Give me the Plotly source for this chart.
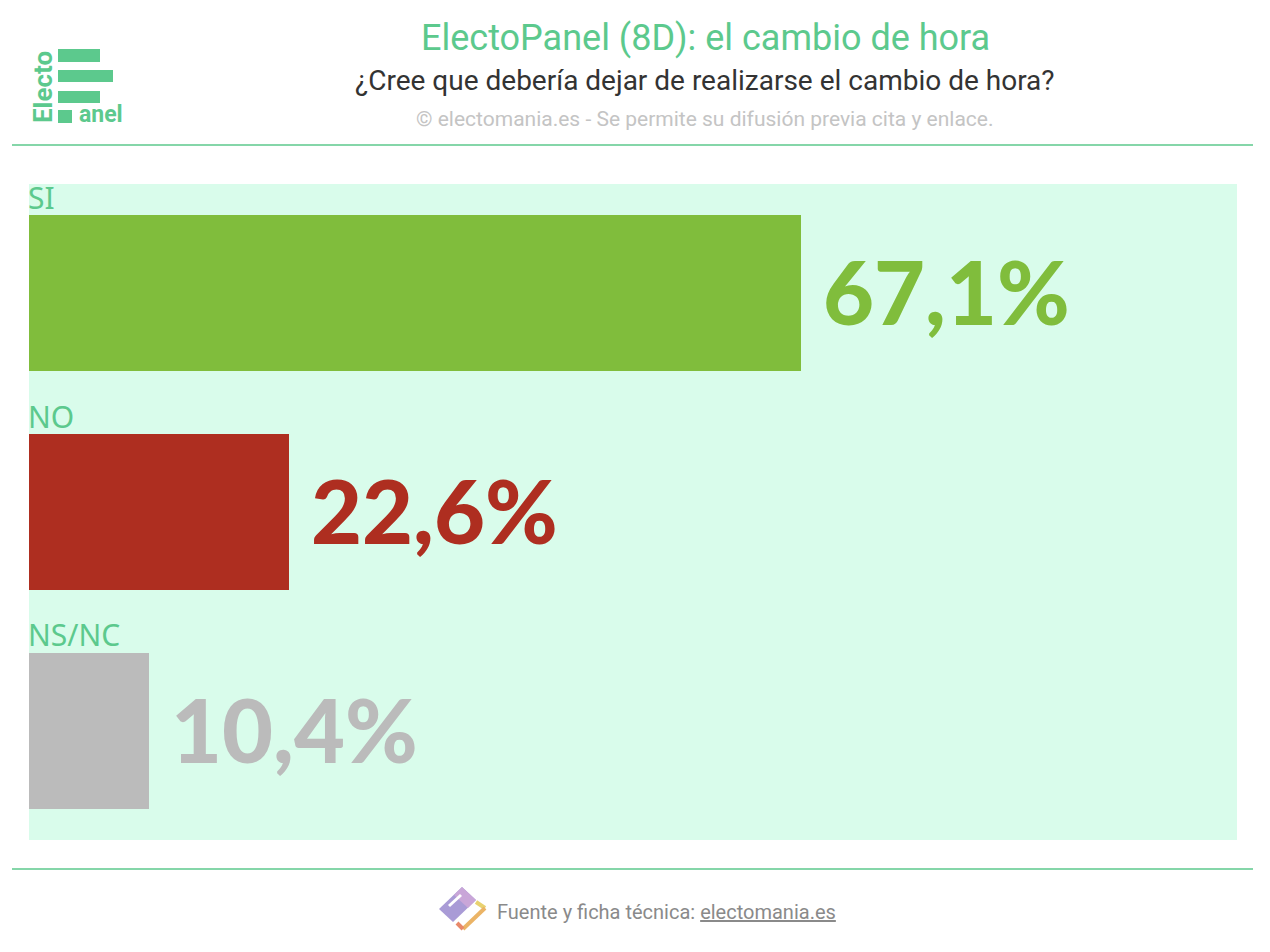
import plotly.graph_objects as go

# datos
categorias = ["SI", "NO", "NS/NC"]
valores = [67.1, 22.6, 10.4]
etiquetas = ["67,1%", "22,6%", "10,4%"]
colores = ["#80BD3C", "#AE2E20", "#BBBBBB"]

VERDE = "#5CC98D"
O = 8  # margen del body de la pagina
W, H = 1270 - O, 952 - O
L, R, T, B = 29, 1237, 184, 840  # area del grafico en pixeles de pantalla


def px(x):
    return (x - L) / (R - L)


def py(y):
    return (B - y) / (B - T)


fig = go.Figure(go.Bar(
    x=valores,
    y=categorias,
    orientation="h",
    marker=dict(color=colores, line=dict(width=0)),
    width=0.712,
    hoverinfo="skip",
))

anotaciones = []
for cat, val, txt, col in zip(categorias, valores, etiquetas, colores):
    anotaciones.append(dict(
        x=val, y=cat, xref="x", yref="y", text=txt,
        showarrow=False, xanchor="left", yanchor="middle", xshift=20, yshift=2,
        font=dict(family="Lato", size=88, color=col, weight=900),
    ))
    anotaciones.append(dict(
        x=0, y=cat, xref="x", yref="y", text=cat,
        showarrow=False, xanchor="left", yanchor="middle", yshift=96, xshift=-3,
        font=dict(family="Noto Sans", size=30, color=VERDE),
    ))

# cabecera
anotaciones += [
    dict(x=px(705), y=py(38), xref="paper", yref="paper", showarrow=False,
         text="ElectoPanel (8D): el cambio de hora", xanchor="center", yanchor="middle",
         font=dict(family="Roboto", size=36, color=VERDE)),
    dict(x=px(705), y=py(80), xref="paper", yref="paper", showarrow=False,
         text="¿Cree que debería dejar de realizarse el cambio de hora?", xanchor="center", yanchor="middle",
         font=dict(family="Roboto", size=28, color="#333333")),
    dict(x=px(705), y=py(119), xref="paper", yref="paper", showarrow=False,
         text="© electomania.es - Se permite su difusión previa cita y enlace.", xanchor="center", yanchor="middle",
         font=dict(family="Roboto", size=21, color="#C4C4C4")),
    # logo
    dict(x=px(43), y=py(87), xref="paper", yref="paper", showarrow=False,
         text="<b>Electo</b>", textangle=-90, xanchor="center", yanchor="middle",
         font=dict(family="Roboto", size=26, color=VERDE)),
    dict(x=px(77), y=py(115), xref="paper", yref="paper", showarrow=False,
         text="<b>anel</b>", xanchor="left", yanchor="middle",
         font=dict(family="Roboto", size=23, color=VERDE)),
    # pie
    dict(x=px(495), y=py(912), xref="paper", yref="paper", showarrow=False,
         text="Fuente y ficha técnica: <u>electomania.es</u>", xanchor="left", yanchor="middle",
         font=dict(family="Roboto", size=20, color="#8A8A8A")),
]

formas = [
    dict(type="line", xref="paper", yref="paper", x0=px(12), x1=px(1253), y0=py(145), y1=py(145),
         line=dict(color=VERDE, width=1.5)),
    dict(type="line", xref="paper", yref="paper", x0=px(12), x1=px(1253), y0=py(869), y1=py(869),
         line=dict(color=VERDE, width=1.5)),
]
for x0, x1, y0, y1 in [(58, 100, 49, 62), (58, 113, 70, 82), (58, 100, 91, 103), (58, 72, 110, 123)]:
    formas.append(dict(type="rect", xref="paper", yref="paper", x0=px(x0), x1=px(x1),
                       y0=py(y0), y1=py(y1), fillcolor=VERDE, line=dict(width=0)))


# icono del pie
def camino(puntos):
    return "M " + " L ".join(f"{px(a)},{py(b)}" for a, b in puntos) + " Z"


formas += [
    dict(type="path", xref="paper", yref="paper", path=camino([(462, 887), (476, 900), (453, 922), (439, 909)]),
         fillcolor="#A99BD6", line=dict(width=0)),
    dict(type="path", xref="paper", yref="paper", path=camino([(462, 887), (476, 900), (468, 908), (454, 895)]),
         fillcolor="#C9A6D8", line=dict(width=0)),
    dict(type="path", xref="paper", yref="paper", path=camino([(448, 905), (460, 894), (462, 896), (450, 907)]),
         fillcolor="white", line=dict(width=0)),
    dict(type="line", xref="paper", yref="paper", x0=px(476), y0=py(902), x1=px(485), y1=py(908),
         line=dict(color="#E8D270", width=4)),
    dict(type="line", xref="paper", yref="paper", x0=px(485), y0=py(908), x1=px(463), y1=py(929),
         line=dict(color="#EBB466", width=4)),
    dict(type="line", xref="paper", yref="paper", x0=px(463), y0=py(929), x1=px(457), y1=py(923),
         line=dict(color="#E8896A", width=4)),
]

fig.update_layout(
    width=W, height=H,
    margin=dict(l=L - O, r=W - (R - O), t=T - O, b=H - (B - O), pad=0),
    paper_bgcolor="white",
    plot_bgcolor="#D9FCEB",
    showlegend=False,
    bargap=0,
    xaxis=dict(range=[0, 105], visible=False, fixedrange=True),
    yaxis=dict(categoryorder="array", categoryarray=categorias, range=[2.5, -0.5],
               visible=False, fixedrange=True),
    annotations=anotaciones,
    shapes=formas,
)

fig.write_html("out.html")
